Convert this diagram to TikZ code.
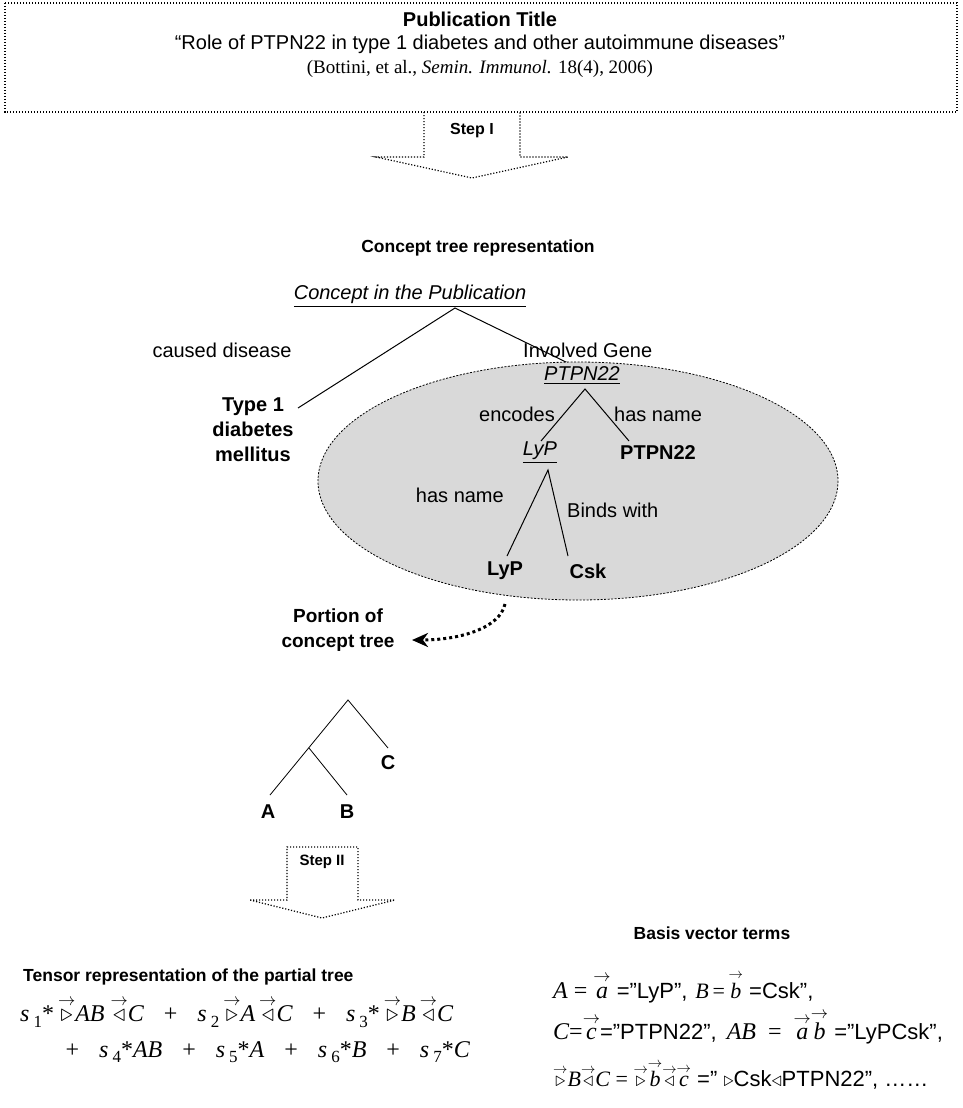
\documentclass[tikz,border=0pt]{standalone}
\usepackage{amsmath}
\usepackage{fontspec}
\setmainfont{Liberation Sans}
\newfontfamily\tms{Liberation Serif}
\usetikzlibrary{arrows.meta}

\newcommand{\sx}[1]{{\itshape s}\,\raisebox{-0.5ex}{\upshape\fontsize{17}{17}\selectfont #1}}
\newcommand{\ovr}[1]{$\overset{\scriptstyle\rightarrow}{#1}$}
\newcommand{\ova}[1]{$\overset{\scriptstyle\rightarrow}{\text{\tms\itshape #1}}$}
\newcommand{\pl}{\hspace{20pt}{\upshape+}\hspace{20pt}}

\tikzset{
  lbl/.style={font=\fontsize{20}{24}\selectfont, inner sep=1pt},
  bl/.style={font=\bfseries\fontsize{20}{25}\selectfont, inner sep=1pt, align=center},
  head/.style={font=\bfseries\fontsize{17.5}{21}\selectfont, inner sep=1pt},
  branch/.style={line width=1pt},
  dotline/.style={line width=1.2pt, dash pattern=on 1.2pt off 1.8pt},
  formula/.style={anchor=west, inner sep=0pt, font=\tms\itshape\fontsize{24}{29}\selectfont},
  basis/.style={anchor=west, inner sep=0pt, font=\fontsize{22}{26}\selectfont},
}

\begin{document}
\begin{tikzpicture}[x=1pt, y=-1pt]
    \useasboundingbox (0,0) rectangle (962,1108);

    % Publication title box
    \draw[dotline] (5,3) rectangle (957,112);
    \node[bl] (pubtitle) at (480,19) {Publication Title};
    \node[lbl] (pubname) at (480,44) {“Role of PTPN22 in type 1 diabetes and other autoimmune diseases”};
    \node[lbl, font=\tms\fontsize{19}{23}\selectfont] (pubref) at (480,69)
        {(Bottini, et al., \textit{Semin. Immunol.} 18(4), 2006)};

    % Step I block arrow
    \draw[dotline] (424,112) -- (424,157) -- (376,157) -- (472,178)
        -- (568,157) -- (520,157) -- (520,112);
    \node[head, font=\bfseries\fontsize{16}{19}\selectfont] (stepone) at (472,131) {Step I};

    % Concept tree
    \node[head] (treehead) at (478,248) {Concept tree representation};
    \node[lbl, font=\itshape\fontsize{20}{24}\selectfont] (concept) at (410,296)
        {\underline{Concept in the Publication}};
    \coordinate (root) at (455,308);
    \coordinate (diseaseend) at (298,408);
    \coordinate (geneend) at (570,364);
    \draw[branch] (diseaseend) -- (root) -- (geneend);
    \node[lbl] (caused) at (222,350) {caused disease};
    \node[lbl, anchor=west] (involved) at (522,350) {Involved Gene};
    \node[bl] (diabetes) at (253,430) {Type 1\\diabetes\\mellitus};

    % Gene sub-tree in the shaded ellipse
    \fill[black!15] (578,481) ellipse [x radius=260, y radius=119];
    \draw[line width=0.8pt, dash pattern=on 2pt off 1.5pt] (578,481) ellipse [x radius=260, y radius=119];
    \node[lbl, font=\itshape\fontsize{20}{24}\selectfont] (ptpnit) at (582,376) {\underline{PTPN22}};
    \coordinate (ptpnroot) at (585,389);
    \coordinate (lypend) at (541,441);
    \coordinate (nameend) at (629,441);
    \draw[branch] (lypend) -- (ptpnroot) -- (nameend);
    \node[lbl, anchor=east] (encodes) at (556,414) {encodes};
    \node[lbl, anchor=west] (hasname) at (613,414) {has name};
    \node[lbl, font=\itshape\fontsize{20}{24}\selectfont] (lypit) at (540,453) {\underline{LyP}};
    \node[bl] (ptpnbold) at (658,453) {PTPN22};
    \coordinate (lyproot) at (548,470);
    \coordinate (lypleaf) at (507,556);
    \coordinate (cskleaf) at (568,556);
    \draw[branch] (lypleaf) -- (lyproot) -- (cskleaf);
    \node[lbl, anchor=east] (hasname2) at (505,495) {has name};
    \node[lbl, anchor=west] (binds) at (566,510) {Binds with};
    \node[bl] (lypbold) at (505,571) {LyP};
    \node[bl] (cskbold) at (588,571) {Csk};

    % Portion of the concept tree
    \node[bl, font=\bfseries\fontsize{19}{25}\selectfont] (portion) at (338,630) {Portion of\\concept tree};
    \coordinate (curvestart) at (505,604);
    \coordinate (curveend) at (412,640);
    \draw[line width=3pt, dash pattern=on 3pt off 3pt, -{Stealth[length=16pt,width=14pt,inset=5pt]}]
        (curvestart) .. controls (500,628) and (460,640) .. (curveend);

    \coordinate (proot) at (348,700);
    \coordinate (pmid) at (309,748);
    \coordinate (pa) at (270,795);
    \coordinate (pb) at (347,795);
    \coordinate (pc) at (388,748);
    \draw[line width=0.8pt] (pa) -- (proot) -- (pc);
    \draw[line width=0.8pt] (pmid) -- (pb);
    \node[bl] (leafa) at (268,812) {A};
    \node[bl] (leafb) at (347,812) {B};
    \node[bl] (leafc) at (388,763) {C};

    % Step II block arrow
    \draw[dotline] (250,900) -- (287,900) -- (287,847) -- (358,847) -- (358,900)
        -- (395,900) -- (322,918) -- cycle;
    \node[head, font=\bfseries\fontsize{15}{18}\selectfont] (steptwo) at (322,862) {Step II};

    % Tensor representation
    \node[head, anchor=west] (tensorhead) at (22,977) {Tensor representation of the partial tree};
    \node[formula] (tensorone) at (20,1012)
        {\sx{1}{\upshape*}\,\ovr{\triangleright}AB\hspace{6pt}\ovr{\triangleleft}C\pl
         \sx{2}\,\ovr{\triangleright}A\,\ovr{\triangleleft}C\pl
         \sx{3}{\upshape*}\,\ovr{\triangleright}B\,\ovr{\triangleleft}C};
    \node[formula, anchor=east] (tensortwo) at (470,1052)
        {{\upshape+}\hspace{20pt}\sx{4}{\upshape*}AB\pl\sx{5}{\upshape*}A\pl
         \sx{6}{\upshape*}B\pl\sx{7}{\upshape*}C};

    % Basis vector terms
    \node[head] (basishead) at (712,933) {Basis vector terms};
    \node[basis] (basisone) at (553,987)
        {{\tms\fontsize{24}{28}\selectfont\itshape A {\upshape =} \ova{a}} ="LyP",\hspace{8pt}{\tms\fontsize{22}{25}\selectfont\itshape B\,{\upshape =}\,\ova{b}} =Csk",};
    \node[basis] (basistwo) at (553,1027)
        {{\tms\fontsize{24}{28}\selectfont\itshape C{\upshape=}\ova{c}}="PTPN22",\hspace{10pt}{\tms\fontsize{24}{28}\selectfont\itshape AB\ \ {\upshape =}\ \ \ova{a}\ova{b}} ="LyPCsk",};
    \node[basis] (basisthree) at (553,1075)
        {{\tms\fontsize{22}{26}\selectfont\itshape\ovr{\triangleright}B\ovr{\triangleleft}C\ {\upshape =}\
         \ovr{\triangleright}\ova{b}\ovr{\triangleleft}\ova{c}} =" $\triangleright$Csk$\triangleleft$PTPN22", ……};

\end{tikzpicture}
\end{document}
